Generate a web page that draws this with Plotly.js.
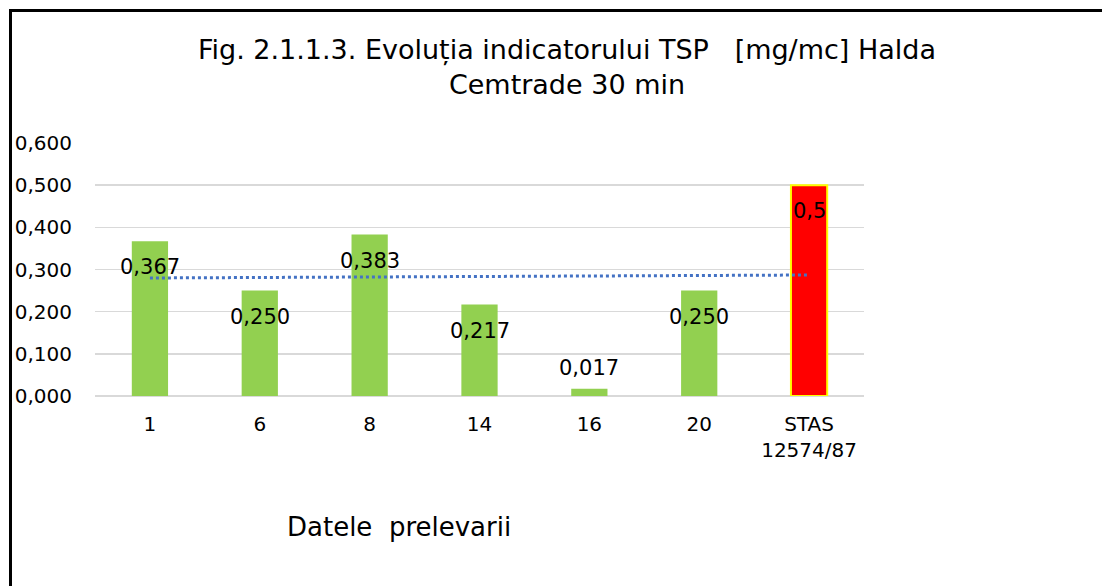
<!DOCTYPE html>
<html>
<head>
<meta charset="utf-8">
<script src="https://cdn.plot.ly/plotly-3.0.1.min.js"></script>
<style>
  html, body { margin: 0; padding: 0; background: #fff; }
  #wrap { position: relative; width: 1102px; height: 586px; overflow: hidden; }
  #chart { position: absolute; left: 0; top: 0; width: 1102px; height: 586px; }
  #frame { position: absolute; left: 9px; top: 9px; width: 1100px; height: 600px;
           border-left: 3px solid #000; border-top: 3px solid #000; pointer-events: none; }
</style>
</head>
<body>
<div id="wrap">
  <div id="chart"></div>
  <div id="frame"></div>
</div>
<script>
// ---- data ----
const categories = ['1', '6', '8', '14', '16', '20', 'STAS<br>12574/87'];
const values = [0.367, 0.250, 0.383, 0.217, 0.017, 0.250, 0.5];
const valueLabels = ['0,367', '0,250', '0,383', '0,217', '0,017', '0,250', '0,5'];
const yTickVals = [0, 0.1, 0.2, 0.3, 0.4, 0.5, 0.6];
const yTickText = ['0,000', '0,100', '0,200', '0,300', '0,400', '0,500', '0,600'];
const titleText = 'Fig. 2.1.1.3. Evoluția indicatorului TSP \u00A0 [mg/mc] Halda<br>Cemtrade 30 min';
const xTitleText = 'Datele \u00A0prelevarii';

// ---- styles ----
const FONT = 'DejaVu Sans, Verdana, sans-serif';
const green = '#92D050';
const red = '#FF0000';
const last = categories.length - 1;
const barColors = categories.map((c, i) => i === last ? red : green);
const lineColors = categories.map((c, i) => i === last ? '#FFFF00' : green);
const lineWidths = categories.map((c, i) => i === last ? 2 : 0);

// linear trend line (least squares over category index)
const n = values.length;
const idx = values.map((v, i) => i + 1);
const mx = idx.reduce((a, b) => a + b, 0) / n;
const my = values.reduce((a, b) => a + b, 0) / n;
let sxy = 0, sxx = 0;
for (let i = 0; i < n; i++) { sxy += (idx[i] - mx) * (values[i] - my); sxx += (idx[i] - mx) ** 2; }
const slope = sxy / sxx;
const trend = idx.map(x => my + slope * (x - mx));

const bars = {
  type: 'bar',
  x: categories,
  y: values,
  marker: { color: barColors, line: { color: lineColors, width: lineWidths } },
  hoverinfo: 'skip',
  showlegend: false
};
const trendLine = {
  type: 'scatter',
  mode: 'lines',
  x: categories,
  y: trend,
  line: { color: '#4472C4', width: 3, dash: 'dot' },
  hoverinfo: 'skip',
  showlegend: false
};

const annotations = values.map((v, i) => ({
  x: i, y: v, xref: 'x', yref: 'y',
  text: valueLabels[i], showarrow: false,
  yanchor: 'middle', yshift: v < 0.05 ? 21 : -26,
  font: { family: FONT, size: 21, color: '#000' }
}));
annotations.push({
  x: 0.395, y: -0.518, xref: 'paper', yref: 'paper',
  text: xTitleText, showarrow: false, xanchor: 'center', yanchor: 'middle',
  font: { family: FONT, size: 26, color: '#000' }
});

const layout = {
  width: 1102, height: 586,
  margin: { l: 95, r: 238, t: 143, b: 190 },
  paper_bgcolor: '#fff', plot_bgcolor: '#fff',
  font: { family: FONT, size: 20, color: '#000' },
  title: {
    text: titleText,
    xref: 'container', yref: 'container',
    x: 0.5145, xanchor: 'center',
    y: 1 - 59 / 586, yanchor: 'middle',
    font: { family: FONT, size: 27, color: '#000' }
  },
  bargap: 0.67,
  xaxis: {
    type: 'category',
    range: [-0.5, last + 0.5],
    showgrid: false, zeroline: false, showline: false,
    ticks: '', ticklabelstandoff: 14, tickangle: 0,
    tickfont: { family: FONT, size: 20, color: '#000' }
  },
  yaxis: {
    range: [0, 0.6],
    tickvals: yTickVals, ticktext: yTickText,
    showgrid: true, gridcolor: '#D9D9D9', gridwidth: 1.5,
    zeroline: true, zerolinecolor: '#D9D9D9', zerolinewidth: 1.5,
    showline: false, ticks: '', ticklabelstandoff: 22,
    tickfont: { family: FONT, size: 20, color: '#000' }
  },
  annotations: annotations
};

Plotly.newPlot('chart', [bars, trendLine], layout, { displayModeBar: false, staticPlot: true });
</script>
</body>
</html>
